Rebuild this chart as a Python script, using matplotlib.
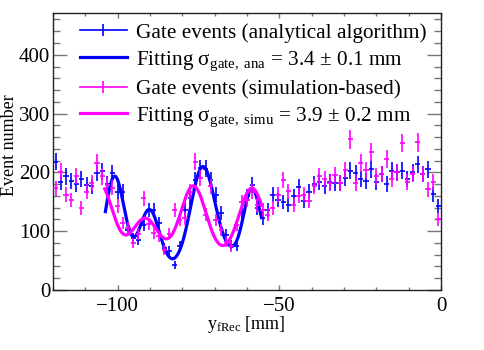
import numpy as np
import matplotlib
matplotlib.use("Agg")
import matplotlib.pyplot as plt
from matplotlib.lines import Line2D
from matplotlib.ticker import MultipleLocator

plt.rcParams['font.family'] = ['Liberation Serif', 'DejaVu Serif']
plt.rcParams['mathtext.fontset'] = 'custom'
plt.rcParams['mathtext.rm'] = 'Liberation Serif'
plt.rcParams['mathtext.it'] = 'Liberation Serif:italic'

# ---- data ----
bin_lo, bin_hi, n_bins = -120.0, 0.0, 75
ana_counts = [218, 184, 193, 186, 180, 189, 178, 176, 199, 202,
              180, 199, 167, 167, 102, 88, 85, 111, 136, 136,
              114, 72, 67, 43, 74, 136, 157, 187, 207, 206,
              187, 162, 131, 94, 77, 75, 133, 159, 179, 139,
              122, 136, 162, 153, 150, 145, 159, 175, 152, 167,
              180, 183, 177, 183, 182, 182, 191, 203, 199, 188,
              186, 205, 184, 197, 180, 203, 200, 203, 188, 200,
              214, 197, 205, 163, 142]
simu_counts = [173, 201, 162, 153, 194, 139, 167, 182, 216, 193,
               179, 174, 142, 114, 105, 80, 95, 156, 112, 97,
               91, 68, 96, 136, 119, 122, 167, 218, 190, 128,
               176, 119, 102, 82, 74, 111, 150, 153, 167, 145,
               136, 128, 139, 162, 187, 168, 145, 160, 162, 152,
               176, 193, 188, 182, 195, 182, 204, 256, 182, 216,
               204, 234, 193, 197, 223, 188, 200, 250, 183, 197,
               251, 197, 171, 184, 120]

# fit curve parameters (baseline intercept/slope + gaussian peaks)
ana_fit_range = (-103.8, -55.5)
ana_fit_base = (141.3, 1.24)
ana_fit_centers = [-101.0, -90.3, -73.7, -58.5]
ana_fit_amps = [177, 107, 160, 104]
ana_fit_widths = [3.2, 3.2, 3.7, 2.5]

simu_fit_range = (-104.0, -55.5)
simu_fit_base = (60.0, 0.0)
simu_fit_centers = [-105.5, -91.5, -76.6, -58.5]
simu_fit_amps = [120, 62, 117, 113]
simu_fit_widths = [3.9, 3.9, 3.9, 3.9]

labels = ['Gate events (analytical algorithm)',
          r'Fitting σ$_{\mathrm{gate,\ ana}}$ = 3.4 ± 0.1 mm',
          'Gate events (simulation-based)',
          r'Fitting σ$_{\mathrm{gate,\ simu}}$ = 3.9 ± 0.2 mm']


def fit_model(x, base, centers, amps, widths):
    y = base[0] + base[1] * x
    for c, a, w in zip(centers, amps, widths):
        y = y + a * np.exp(-0.5 * ((x - c) / w) ** 2)
    return y


edges = np.linspace(bin_lo, bin_hi, n_bins + 1)
centers = 0.5 * (edges[:-1] + edges[1:])
half_w = 0.5 * (edges[1] - edges[0])
ana = np.array(ana_counts, float)
simu = np.array(simu_counts, float)

BLUE = '#0000ff'
MAG = '#ff00ff'

fig = plt.figure(figsize=(4.85, 3.5), dpi=100)
ax = fig.add_axes([53 / 485, 60 / 350, 388 / 485, 277 / 350])

ax.errorbar(centers, ana, yerr=np.sqrt(ana), xerr=half_w, fmt='none',
            ecolor=BLUE, elinewidth=1.2, capsize=0, zorder=3)
xa = np.linspace(*ana_fit_range, 400)
ax.plot(xa, fit_model(xa, ana_fit_base, ana_fit_centers, ana_fit_amps, ana_fit_widths),
        color=BLUE, lw=2.3, zorder=4)
ax.errorbar(centers, simu, yerr=np.sqrt(simu), xerr=half_w, fmt='none',
            ecolor=MAG, elinewidth=1.2, capsize=0, zorder=5)
xs = np.linspace(*simu_fit_range, 400)
ax.plot(xs, fit_model(xs, simu_fit_base, simu_fit_centers, simu_fit_amps, simu_fit_widths),
        color=MAG, lw=2.3, zorder=6)

ax.set_xlim(-120, 0)
ax.set_ylim(0, 471)
ax.xaxis.set_major_locator(MultipleLocator(50))
ax.xaxis.set_minor_locator(MultipleLocator(10))
ax.yaxis.set_major_locator(MultipleLocator(100))
ax.yaxis.set_minor_locator(MultipleLocator(20))
ax.tick_params(axis='both', which='both', direction='in', top=True, right=True,
               color='#777777', width=1.0, labelsize=15)
ax.tick_params(axis='x', which='major', length=3.6, pad=5)
ax.tick_params(axis='x', which='minor', length=2.2)
ax.tick_params(axis='y', which='major', length=10, pad=2)
ax.tick_params(axis='y', which='minor', length=5)
for s in ax.spines.values():
    s.set_linewidth(1.0)
    s.set_color('#222222')

fig.text(10 / 485, 1 - 145 / 350, 'Event number', rotation=90,
         ha='center', va='center', fontsize=13)
fig.text(246 / 485, 1 - 329 / 350, r'y$_{\mathrm{fRec}}$ [mm]',
         ha='center', va='baseline', fontsize=13)

handles = [Line2D([], [], color=BLUE, lw=1.2, marker='|', markersize=9, markeredgewidth=1.2),
           Line2D([], [], color=BLUE, lw=2.3),
           Line2D([], [], color=MAG, lw=1.2, marker='|', markersize=9, markeredgewidth=1.2),
           Line2D([], [], color=MAG, lw=2.3)]
leg = ax.legend(handles, labels, loc='upper left', bbox_to_anchor=(80 / 485, 1 - 23 / 350),
                bbox_transform=fig.transFigure, frameon=False, fontsize=15.3,
                handlelength=2.2, handletextpad=0.45, labelspacing=0.3,
                borderpad=0, borderaxespad=0, numpoints=1)

fig.savefig('out.png', dpi=100)
